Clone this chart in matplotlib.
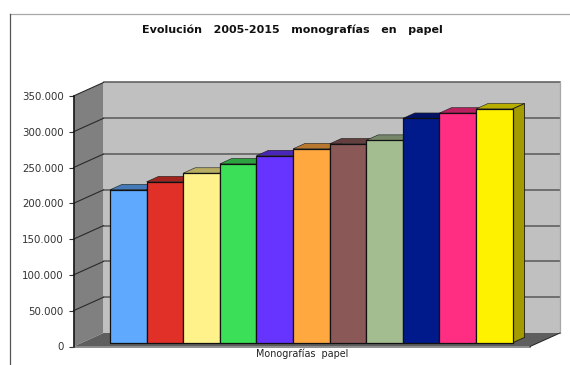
import matplotlib
matplotlib.use("Agg")
import matplotlib.pyplot as plt
from matplotlib.lines import Line2D
from matplotlib.patches import Polygon
from matplotlib.colors import to_rgb

years = list(range(2005, 2016))
values = [213800, 225000, 237000, 250000, 261400, 271000,
          278000, 283000, 313600, 321000, 326800]
colors = ["#5FAAFF", "#E03028", "#FFF28A", "#3CE058", "#6633FF", "#FFA840",
          "#8B5858", "#A3BC90", "#001A8C", "#FF2E82", "#FFF200"]
y_ticks = [0, 50000, 100000, 150000, 200000, 250000, 300000, 350000]

W, H = 570, 365
PX_X = 36.6          # horizontal pixels per category
PX_Y = 250.5 / 350000  # vertical pixels per unit of value
SLOPE = 0.45         # rise of the depth axis per pixel of run
WALL_DEPTH = 30
BAR_NEAR, BAR_FAR = 8.2, 20.2

fig = plt.figure(figsize=(W / 100, H / 100), dpi=100, facecolor="white")
ax = fig.add_axes([73.5 / W, (H - 346.5) / H, 456.5 / W, 250.5 / H])
ax.patch.set_visible(False)
x_left = -0.5 - 28.3 / PX_X
ax.set_xlim(x_left, x_left + 456.5 / PX_X)
ax.set_ylim(0, 350000)
x_min, x_max = ax.get_xlim()


def project(x, y, depth):
    """Shift a data point backwards along the oblique depth axis."""
    return (x + depth / PX_X, y + depth * SLOPE / PX_Y)


def face(points, color, edge="none", lw=0.0, z=1):
    ax.add_patch(Polygon(points, closed=True, facecolor=color, edgecolor=edge,
                         linewidth=lw, zorder=z, clip_on=False))


def shade(color, k):
    return tuple(c * k for c in to_rgb(color))


# Walls and floor
face([project(x_min, 0, WALL_DEPTH), project(x_max, 0, WALL_DEPTH),
      project(x_max, 350000, WALL_DEPTH), project(x_min, 350000, WALL_DEPTH)],
     "#C0C0C0", z=1)
face([project(x_min, 0, 0), project(x_min, 0, WALL_DEPTH),
      project(x_min, 350000, WALL_DEPTH), project(x_min, 350000, 0)],
     "#808080", z=1.1)
face([project(x_min, 0, 0), project(x_max, 0, 0),
      project(x_max, 0, WALL_DEPTH), project(x_min, 0, WALL_DEPTH)],
     "#5E5E5E", z=1.2)

# Gridlines run along the back wall and down the side wall
for tick in y_ticks[1:]:
    back = project(x_min, tick, WALL_DEPTH)
    right = project(x_max, tick, WALL_DEPTH)
    ax.plot([back[0], right[0]], [back[1], right[1]], color="#585858",
            lw=1.1, zorder=1.5, clip_on=False)
    ax.plot([x_min, back[0]], [tick, back[1]], color="#2A2A2A",
            lw=0.8, zorder=1.5, clip_on=False)

# Outline of the back wall
corner = project(x_max, 0, WALL_DEPTH)
ax.plot([corner[0], corner[0]], [corner[1], corner[1] + 350000],
        color="#A8A8A8", lw=0.9, zorder=1.6, clip_on=False)
ax.plot([x_min, x_max], [0, 0], color="#8C8C8C", lw=1.4, zorder=1.7,
        clip_on=False)
ax.plot([x_max, corner[0]], [0, corner[1]], color="#222222", lw=0.7,
        zorder=1.7, clip_on=False)

# Bars: front face with ax.bar, then the oblique top and side faces
shift_x, shift_y = project(0, 0, BAR_NEAR)
for i, (value, color) in enumerate(zip(values, colors)):
    z = 3 + i * 0.1
    left, right = i - 0.5, i + 0.5
    extra = BAR_FAR - BAR_NEAR
    base = shift_y
    top = base + value
    front_l, front_r = left + shift_x, right + shift_x
    face([(front_l, top), (front_r, top),
          project(front_r, top, extra), project(front_l, top, extra)],
         shade(color, 0.72), edge="#1A1A1A", lw=0.4, z=z)
    face([(front_r, base), project(front_r, base, extra),
          project(front_r, top, extra), (front_r, top)],
         shade(color, 0.64), edge="#1A1A1A", lw=0.6, z=z)
    ax.bar(i + shift_x, value, width=1.0, bottom=base, color=color,
           edgecolor="#111111", linewidth=0.9, zorder=z + 0.01, clip_on=False)

# Axes furniture
for side in ("top", "right", "bottom"):
    ax.spines[side].set_visible(False)
ax.spines["left"].set_color("#111111")
ax.spines["left"].set_linewidth(1.1)
ax.spines["left"].set_zorder(2)
ax.set_xticks([])
ax.set_yticks(y_ticks)
ax.set_yticklabels([f"{t:,}".replace(",", ".") for t in y_ticks],
                   fontsize=7.4, family="DejaVu Sans", color="#333333")
ax.tick_params(axis="y", length=3.6, width=0.8, color="#333333", pad=3.4)

fig.text(302 / W, 1 - 353.5 / H, "Monografías  papel", ha="center",
         va="center", fontsize=6.9, family="DejaVu Sans", color="#222222")
fig.text(292 / W, 1 - 29.5 / H,
         "Evolución   2005-2015   monografías   en   papel",
         ha="center", va="center", fontsize=8.0, family="DejaVu Sans",
         fontweight="bold", color="#111111")

# Chart area frame: top and left rules only
fig.add_artist(Line2D([9.5 / W, 1], [1 - 13.5 / H, 1 - 13.5 / H],
                      color="#A8A8A8", lw=0.9))
fig.add_artist(Line2D([9.5 / W, 9.5 / W], [1 - 13.5 / H, 0],
                      color="#555555", lw=0.9))

fig.savefig("out.png", dpi=100)
